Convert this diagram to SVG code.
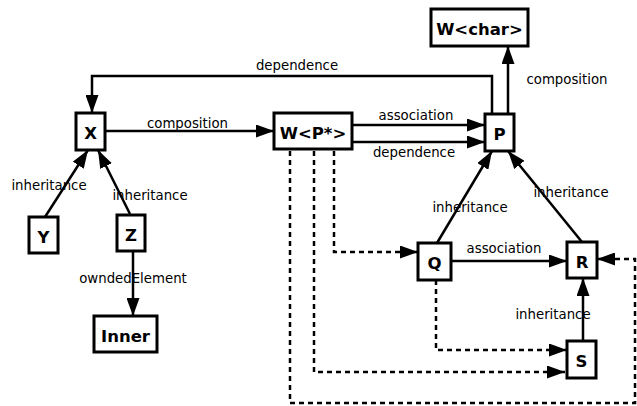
<svg xmlns="http://www.w3.org/2000/svg" width="637" height="406" viewBox="0 0 637 406">
<defs>
<marker id="ah" markerUnits="userSpaceOnUse" markerWidth="18" markerHeight="13" refX="18" refY="6.5" orient="auto" viewBox="0 0 18 13">
<path d="M0,0 L18,6.5 L0,13 z" fill="#000"/>
</marker>
<style>
.box{fill:#fff;stroke:#000;stroke-width:3}
.nl{font-family:"DejaVu Sans",sans-serif;font-weight:bold;font-size:16.5px;text-anchor:middle;fill:#000}
.el{font-family:"DejaVu Sans",sans-serif;font-size:13.3px;text-anchor:middle;fill:#000}
.c{fill:none;stroke:#000;stroke-width:2.5;marker-end:url(#ah)}
.d{fill:none;stroke:#000;stroke-width:2.5;stroke-dasharray:5,4;marker-end:url(#ah)}
</style>
</defs>
<rect width="637" height="406" fill="#fff"/>
<g id="connectors">
<path class="c" d="M492,114 V76 H92 V113"/>
<path class="c" d="M508,114 V46"/>
<path class="c" d="M105,131 H274"/>
<path class="c" d="M352,125 H485"/>
<path class="c" d="M352,142 H485"/>
<path class="c" d="M45,217 L88,150"/>
<path class="c" d="M130,214 L98,150"/>
<path class="c" d="M133,251 V316"/>
<path class="c" d="M437,243 L492,151"/>
<path class="c" d="M582,242 L508,151"/>
<path class="c" d="M451,261 H567"/>
<path class="c" d="M583,341 V278"/>
<path class="d" d="M334,151 V252 H418"/>
<path class="d" d="M314,151 V372 H565"/>
<path class="d" d="M290,151 V403 H635 V259 H597"/>
<path class="d" d="M436,280 V350 H567"/>
</g>
<g id="labels">
<text class="el" x="297" y="70">dependence</text>
<text class="el" x="567" y="84">composition</text>
<text class="el" x="187.5" y="128">composition</text>
<text class="el" x="416" y="120">association</text>
<text class="el" x="414" y="157">dependence</text>
<text class="el" x="49" y="190">inheritance</text>
<text class="el" x="150" y="200">inheritance</text>
<text class="el" x="133" y="283">owndedElement</text>
<text class="el" x="470" y="212">inheritance</text>
<text class="el" x="571" y="197">inheritance</text>
<text class="el" x="504" y="253">association</text>
<text class="el" x="553" y="319">inheritance</text>
</g>
<g id="node-X"><rect class="box" x="76" y="113" width="29" height="37"/><text class="nl" x="90.5" y="139">X</text></g>
<g id="node-WP"><rect class="box" x="274" y="113" width="78" height="36"/><text class="nl" x="313" y="138.5">W&lt;P*&gt;</text></g>
<g id="node-P"><rect class="box" x="485" y="114" width="29" height="37"/><text class="nl" x="499.5" y="140">P</text></g>
<g id="node-Wchar"><rect class="box" x="431" y="9" width="97" height="37"/><text class="nl" x="479.5" y="35">W&lt;char&gt;</text></g>
<g id="node-Y"><rect class="box" x="29" y="217" width="29" height="36"/><text class="nl" x="43.5" y="242.5">Y</text></g>
<g id="node-Z"><rect class="box" x="117" y="215" width="28" height="36"/><text class="nl" x="131" y="240.5">Z</text></g>
<g id="node-Inner"><rect class="box" x="94" y="316" width="63" height="36"/><text class="nl" x="125.5" y="341.5">Inner</text></g>
<g id="node-Q"><rect class="box" x="418" y="243" width="33" height="37"/><text class="nl" x="434.5" y="269">Q</text></g>
<g id="node-R"><rect class="box" x="567" y="242" width="30" height="36"/><text class="nl" x="582" y="267.5">R</text></g>
<g id="node-S"><rect class="box" x="567" y="341" width="29" height="37"/><text class="nl" x="581.5" y="367">S</text></g>
</svg>
